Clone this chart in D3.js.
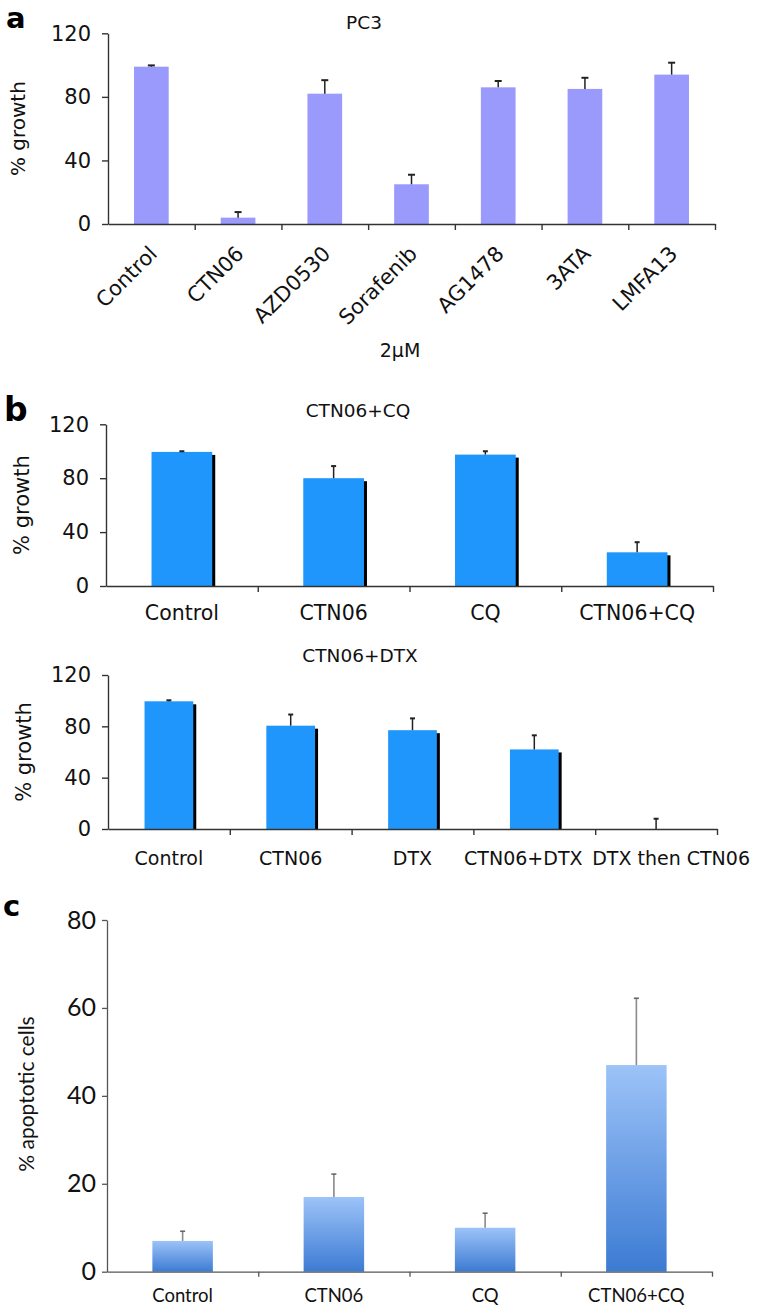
<!DOCTYPE html>
<html>
<head>
<meta charset="utf-8">
<script src="https://cdn.jsdelivr.net/npm/d3@7"></script>
<style>
  body { margin: 0; background: #fff; }
  svg { display: block; }
  .vd { font-family: "DejaVu Sans", Verdana, sans-serif; }
  .cb { font-family: Lato, "Open Sans", sans-serif; }
</style>
</head>
<body>
<div id="fig"></div>
<script>
// panel a - PC3, 2uM
var aCategories = ["Control", "CTN06", "AZD0530", "Sorafenib", "AG1478", "3ATA", "LMFA13"];
var aValues = [99, 4, 82, 25, 86, 85, 94];
var aErrors = [0.8, 3.5, 8.5, 6, 4, 7, 7.5];

// panel b top - CTN06+CQ
var bCqCategories = ["Control", "CTN06", "CQ", "CTN06+CQ"];
var bCqValues = [99.5, 80, 97.5, 25];
var bCqErrors = [0.5, 9, 2.5, 7.5];

// panel b bottom - CTN06+DTX
var bDtxCategories = ["Control", "CTN06", "DTX", "CTN06+DTX", "DTX then CTN06"];
var bDtxValues = [99.5, 80.5, 77, 62, 0];
var bDtxErrors = [0.8, 8.7, 9.2, 11, 8];

// panel c - apoptosis
var cCategories = ["Control", "CTN06", "CQ", "CTN06+CQ"];
var cValues = [7, 17, 10, 47];
var cErrors = [2.2, 5.2, 3.3, 15.2];

var growthTicks = [0, 40, 80, 120];
var apopTicks = [0, 20, 40, 60, 80];

var width = 760, height = 1307;
var svg = d3.select("#fig").append("svg")
    .attr("width", width)
    .attr("height", height);

var defs = svg.append("defs");
var grad = defs.append("linearGradient")
    .attr("id", "cgrad")
    .attr("x1", 0).attr("y1", 0).attr("x2", 0).attr("y2", 1);
grad.append("stop").attr("offset", "0%").attr("stop-color", "#9dc3f8");
grad.append("stop").attr("offset", "100%").attr("stop-color", "#3c7bd3");

function panelLetter(t, x, y, size) {
    svg.append("text").attr("class", "vd")
        .attr("x", x).attr("y", y)
        .style("font-size", size + "px")
        .style("font-weight", "bold")
        .text(t);
}

// generic growth chart used for a and b
function drawGrowth(o) {
    var x = d3.scaleBand()
        .domain(o.cats)
        .range([o.x0, o.x1])
        .paddingInner(0.6)
        .paddingOuter(0.3);
    var y = d3.scaleLinear().domain([0, 120]).range([o.y0, o.yTop]);
    var g = svg.append("g");

    // shadow (b panels only)
    if (o.shadow) {
        g.selectAll("rect.shadow")
            .data(o.vals)
            .enter().append("rect")
            .attr("x", (d, i) => x(o.cats[i]) + 3)
            .attr("y", d => y(d) + 3)
            .attr("width", x.bandwidth())
            .attr("height", d => Math.max(0, o.y0 - y(d) - 3))
            .style("fill", "#000");
    }

    g.selectAll("rect.bar")
        .data(o.vals)
        .enter().append("rect")
        .attr("class", "bar")
        .attr("x", (d, i) => x(o.cats[i]))
        .attr("y", d => y(d))
        .attr("width", x.bandwidth())
        .attr("height", d => o.y0 - y(d))
        .style("fill", o.color);

    // error bars, upper side only
    var eb = g.selectAll("g.err")
        .data(o.vals)
        .enter().append("g");
    eb.append("line")
        .attr("x1", (d, i) => x(o.cats[i]) + x.bandwidth() / 2)
        .attr("x2", (d, i) => x(o.cats[i]) + x.bandwidth() / 2)
        .attr("y1", d => y(d))
        .attr("y2", (d, i) => y(d + o.errs[i]))
        .style("stroke", "#222").style("stroke-width", 1.5);
    eb.append("line")
        .attr("x1", (d, i) => x(o.cats[i]) + x.bandwidth() / 2 - o.cap)
        .attr("x2", (d, i) => x(o.cats[i]) + x.bandwidth() / 2 + o.cap)
        .attr("y1", (d, i) => y(d + o.errs[i]))
        .attr("y2", (d, i) => y(d + o.errs[i]))
        .style("stroke", "#222").style("stroke-width", 2);

    // y axis
    var yAxis = g.append("g")
        .attr("transform", "translate(" + o.x0 + ",0)")
        .call(d3.axisLeft(y).tickValues(growthTicks).tickSize(6).tickPadding(11).tickSizeOuter(0));
    yAxis.selectAll("text").attr("class", "vd")
        .style("font-size", o.tickFont + "px").style("fill", "#111");
    yAxis.selectAll("path,line").style("stroke", "#333").style("stroke-width", 1.4);

    // x axis with ticks on the category boundaries
    var xb = d3.scaleLinear().domain([0, o.cats.length]).range([o.x0, o.x1]);
    var xAxis = g.append("g")
        .attr("transform", "translate(0," + o.y0 + ")")
        .call(d3.axisBottom(xb).tickValues(d3.range(1, o.cats.length + 1)).tickFormat("").tickSize(6).tickSizeOuter(0));
    xAxis.selectAll("path,line").style("stroke", "#333").style("stroke-width", 1.4);

    // category labels
    var shift = o.labShift || {};
    var lab = g.selectAll("text.cat")
        .data(o.cats)
        .enter().append("text")
        .attr("class", "vd")
        .style("font-size", o.labFont + "px")
        .style("fill", "#111")
        .text(d => d);
    if (o.rotate) {
        lab.attr("text-anchor", "end")
            .attr("transform", d => "translate(" + (x(d) + x.bandwidth() / 2 + 7) + "," + (o.y0 + 31) + ") rotate(-45)");
    } else {
        lab.attr("text-anchor", "middle")
            .attr("x", d => x(d) + x.bandwidth() / 2 + (shift[d] || 0))
            .attr("y", o.y0 + o.labDy);
    }

    // y label
    svg.append("text").attr("class", "vd")
        .attr("text-anchor", "middle")
        .attr("transform", "translate(" + o.ylabX + "," + ((o.y0 + o.yTop) / 2) + ") rotate(-90)")
        .style("font-size", o.ylabFont + "px")
        .style("fill", "#111")
        .text("% growth");

    // title
    svg.append("text").attr("class", "vd")
        .attr("text-anchor", "middle")
        .attr("x", o.titleX).attr("y", o.titleY)
        .style("font-size", "18.5px")
        .style("fill", "#111")
        .text(o.title);
}

// a
panelLetter("a", 6, 28, 29);
drawGrowth({
    cats: aCategories, vals: aValues, errs: aErrors,
    x0: 108, x1: 715, y0: 224, yTop: 33.3,
    color: "#9a9afc", shadow: false, cap: 3.5,
    tickFont: 21, labFont: 21, rotate: true,
    ylabX: 25, ylabFont: 20,
    title: "PC3", titleX: 364, titleY: 29
});
svg.append("text").attr("class", "vd")
    .attr("text-anchor", "middle")
    .attr("x", 400).attr("y", 357)
    .style("font-size", "19px").style("fill", "#111")
    .text("2μM");

// b top
panelLetter("b", 4, 421, 33);
drawGrowth({
    cats: bCqCategories, vals: bCqValues, errs: bCqErrors,
    x0: 106, x1: 713, y0: 586, yTop: 424.3,
    color: "#1f96fb", shadow: true, cap: 2.5,
    tickFont: 21, labFont: 20.5, rotate: false, labDy: 34,
    ylabX: 29, ylabFont: 21,
    title: "CTN06+CQ", titleX: 358, titleY: 417
});

// b bottom
drawGrowth({
    cats: bDtxCategories, vals: bDtxValues, errs: bDtxErrors,
    x0: 108, x1: 717, y0: 829, yTop: 675,
    color: "#1f96fb", shadow: true, cap: 2.5,
    tickFont: 21, labFont: 19, rotate: false, labDy: 36,
    labShift: {"CTN06+DTX": -11, "DTX then CTN06": 15},
    ylabX: 31, ylabFont: 21,
    title: "CTN06+DTX", titleX: 360, titleY: 662
});

// c
panelLetter("c", 3, 916, 29);
(function() {
    var x0 = 107, x1 = 712, y0 = 1271.7, yTop = 920;
    var x = d3.scaleBand()
        .domain(cCategories)
        .range([x0, x1])
        .paddingInner(0.6)
        .paddingOuter(0.3);
    var y = d3.scaleLinear().domain([0, 80]).range([y0, yTop]);
    var g = svg.append("g");

    g.selectAll("rect")
        .data(cValues)
        .enter().append("rect")
        .attr("x", (d, i) => x(cCategories[i]))
        .attr("y", d => y(d))
        .attr("width", x.bandwidth())
        .attr("height", d => y0 - y(d))
        .style("fill", "url(#cgrad)");

    var eb = g.selectAll("g.err")
        .data(cValues)
        .enter().append("g");
    eb.append("line")
        .attr("x1", (d, i) => x(cCategories[i]) + x.bandwidth() / 2)
        .attr("x2", (d, i) => x(cCategories[i]) + x.bandwidth() / 2)
        .attr("y1", d => y(d))
        .attr("y2", (d, i) => y(d + cErrors[i]))
        .style("stroke", "#8a8a8a").style("stroke-width", 1.6);
    eb.append("line")
        .attr("x1", (d, i) => x(cCategories[i]) + x.bandwidth() / 2 - 2.5)
        .attr("x2", (d, i) => x(cCategories[i]) + x.bandwidth() / 2 + 2.5)
        .attr("y1", (d, i) => y(d + cErrors[i]))
        .attr("y2", (d, i) => y(d + cErrors[i]))
        .style("stroke", "#666").style("stroke-width", 1.6);

    var yAxis = g.append("g")
        .attr("transform", "translate(" + x0 + ",0)")
        .call(d3.axisLeft(y).tickValues(apopTicks).tickSize(5).tickPadding(6).tickSizeOuter(0));
    yAxis.selectAll("text").attr("class", "cb")
        .style("font-size", "25px").style("fill", "#111");
    yAxis.selectAll("path,line").style("stroke", "#555").style("stroke-width", 1.3);

    var xb = d3.scaleLinear().domain([0, cCategories.length]).range([x0, x1]);
    var xAxis = g.append("g")
        .attr("transform", "translate(0," + y0 + ")")
        .call(d3.axisBottom(xb).tickValues(d3.range(1, cCategories.length + 1)).tickFormat("").tickSize(5).tickSizeOuter(0));
    xAxis.selectAll("path,line").style("stroke", "#555").style("stroke-width", 1.3);

    g.selectAll("text.cat")
        .data(cCategories)
        .enter().append("text")
        .attr("class", "cb")
        .attr("text-anchor", "middle")
        .attr("x", d => x(d) + x.bandwidth() / 2)
        .attr("y", y0 + 30)
        .style("font-size", "18.5px")
        .style("fill", "#111")
        .text(d => d);

    svg.append("text").attr("class", "cb")
        .attr("text-anchor", "middle")
        .attr("transform", "translate(34," + 1094 + ") rotate(-90)")
        .style("font-size", "21px")
        .style("fill", "#111")
        .text("% apoptotic cells");
})();
</script>
</body>
</html>
